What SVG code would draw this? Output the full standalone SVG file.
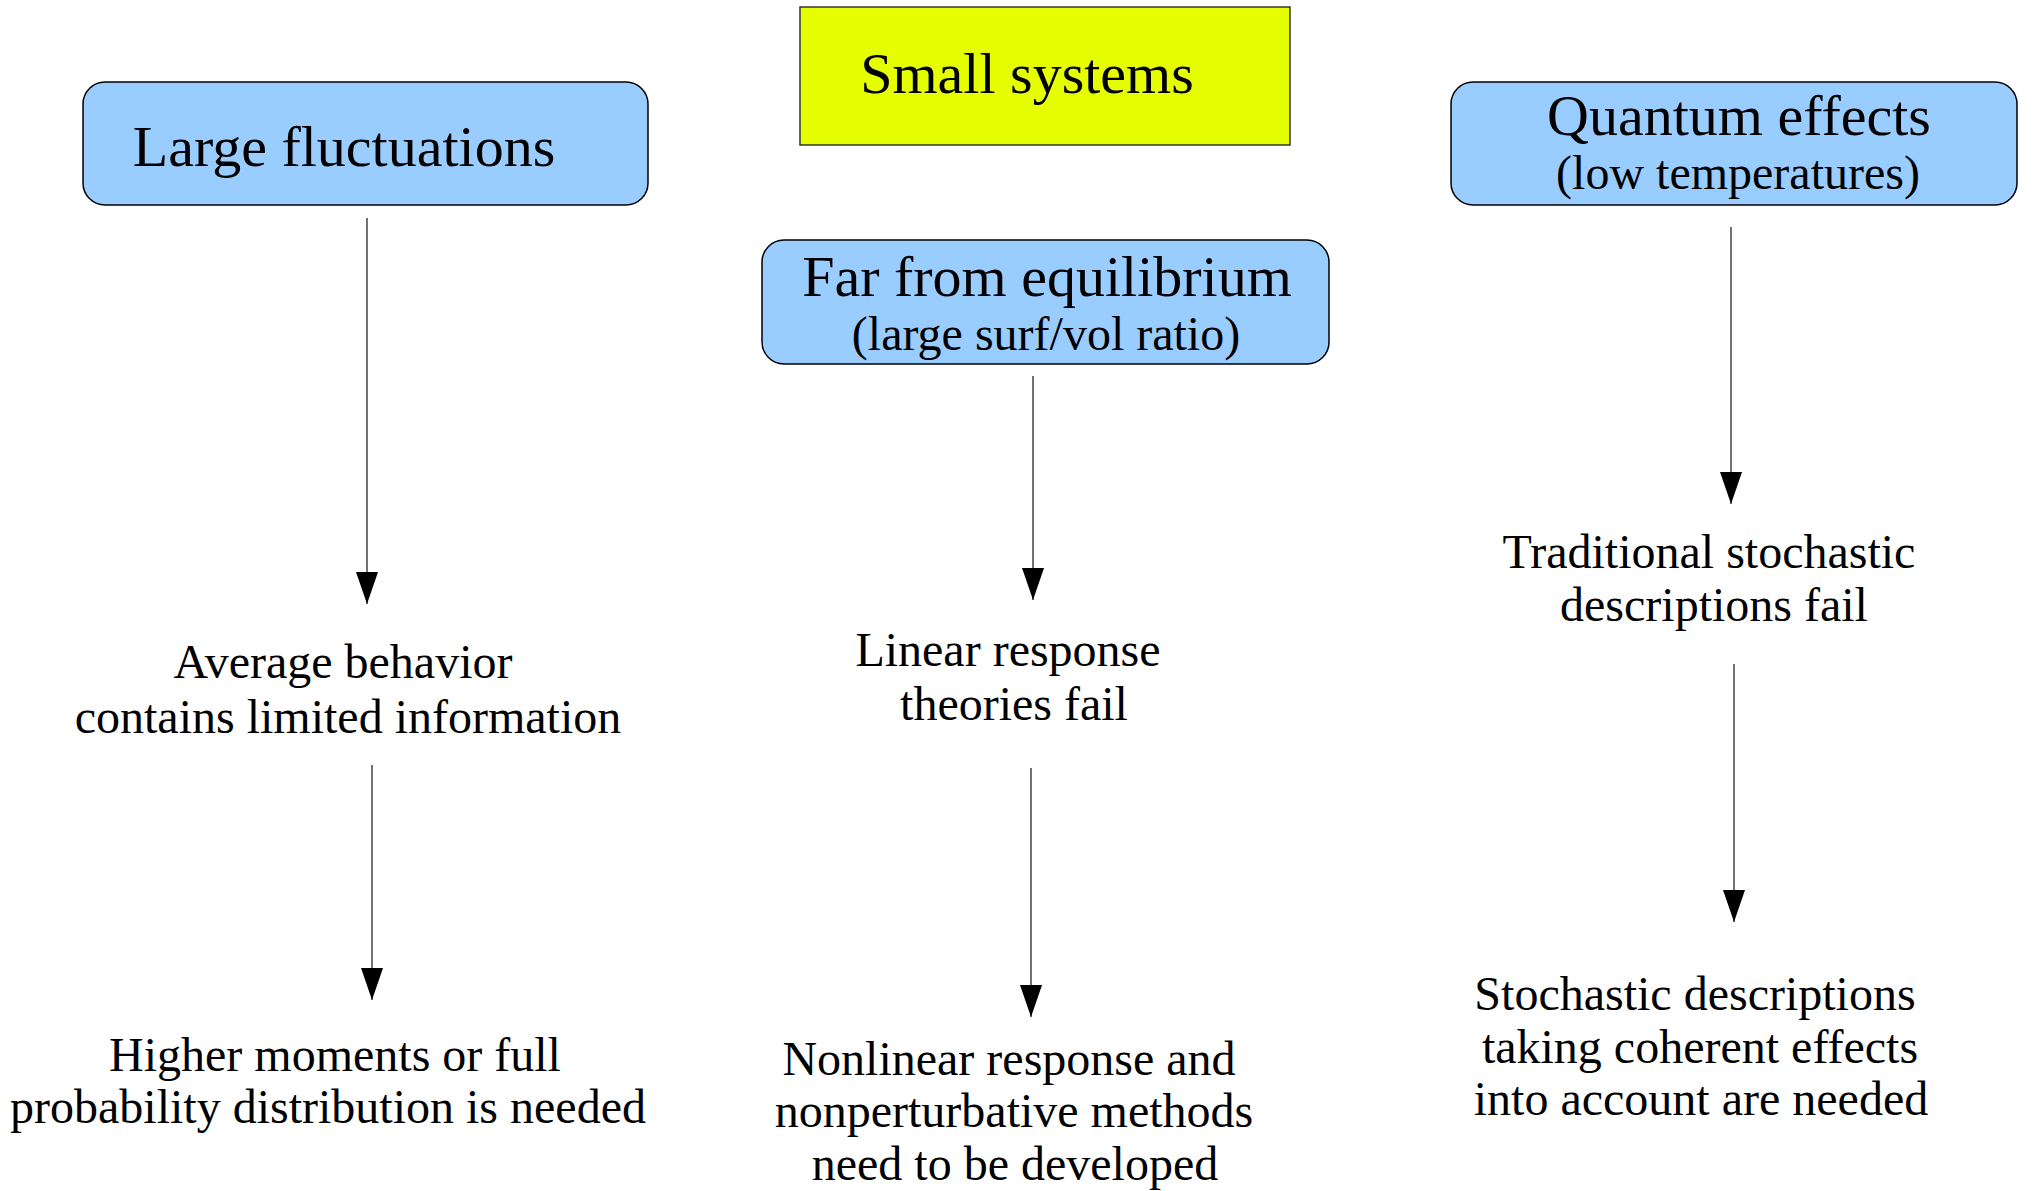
<svg xmlns="http://www.w3.org/2000/svg" width="2033" height="1191" viewBox="0 0 2033 1191">
<style>
.t{font-family:"Liberation Serif","Times New Roman",serif;fill:#000;text-anchor:middle}
.big{font-size:58px}
.sm{font-size:48px}
.blue{fill:#99ccff;stroke:#000;stroke-width:1.5}
.yel{fill:#e6ff00;stroke:#333;stroke-width:1.5}
.c{stroke:#444;stroke-width:1.5;fill:none;marker-end:url(#ah)}
</style>
<defs>
<marker id="ah" viewBox="0 0 32 22" refX="32" refY="11" markerWidth="32" markerHeight="22" markerUnits="userSpaceOnUse" orient="auto">
<path d="M0,0 L32,11 L0,22 z" fill="#000"/>
</marker>
</defs>
<rect width="2033" height="1191" fill="#fff"/>
<g id="small-systems">
<rect class="yel" x="800" y="7" width="490" height="138"/>
<text class="t big" x="1027" y="93">Small systems</text>
</g>
<g id="large-fluctuations">
<rect class="blue" x="83" y="82" width="565" height="123" rx="22" ry="22"/>
<text class="t big" x="344" y="166">Large fluctuations</text>
</g>
<g id="quantum-effects">
<rect class="blue" x="1451" y="82" width="566" height="123" rx="22" ry="22"/>
<text class="t big" x="1739" y="135">Quantum effects</text>
<text class="t sm" x="1738" y="189">(low temperatures)</text>
</g>
<g id="far-from-equilibrium">
<rect class="blue" x="762" y="240" width="567" height="124" rx="22" ry="22"/>
<text class="t big" x="1047" y="296">Far from equilibrium</text>
<text class="t sm" x="1046" y="350">(large surf/vol ratio)</text>
</g>
<g id="average-behavior">
<text class="t sm" x="343" y="678">Average behavior</text>
<text class="t sm" x="348" y="733">contains limited information</text>
</g>
<g id="higher-moments">
<text class="t sm" x="335" y="1071">Higher moments or full</text>
<text class="t sm" x="328" y="1123">probability distribution is needed</text>
</g>
<g id="linear-response">
<text class="t sm" x="1008" y="666">Linear response</text>
<text class="t sm" x="1014" y="720">theories fail</text>
</g>
<g id="nonlinear-response">
<text class="t sm" x="1009" y="1075">Nonlinear response and</text>
<text class="t sm" x="1014" y="1127">nonperturbative methods</text>
<text class="t sm" x="1015" y="1180">need to be developed</text>
</g>
<g id="traditional-stochastic">
<text class="t sm" x="1709" y="568">Traditional stochastic</text>
<text class="t sm" x="1714" y="621">descriptions fail</text>
</g>
<g id="stochastic-coherent">
<text class="t sm" x="1695" y="1010">Stochastic descriptions</text>
<text class="t sm" x="1700" y="1063">taking coherent effects</text>
<text class="t sm" x="1701" y="1115">into account are needed</text>
</g>
<g id="connectors">
<line class="c" x1="367" y1="218" x2="367" y2="604"/>
<line class="c" x1="372" y1="765" x2="372" y2="1000"/>
<line class="c" x1="1033" y1="376" x2="1033" y2="600"/>
<line class="c" x1="1031" y1="768" x2="1031" y2="1017"/>
<line class="c" x1="1731" y1="227" x2="1731" y2="504"/>
<line class="c" x1="1734" y1="664" x2="1734" y2="922"/>
</g>
</svg>
